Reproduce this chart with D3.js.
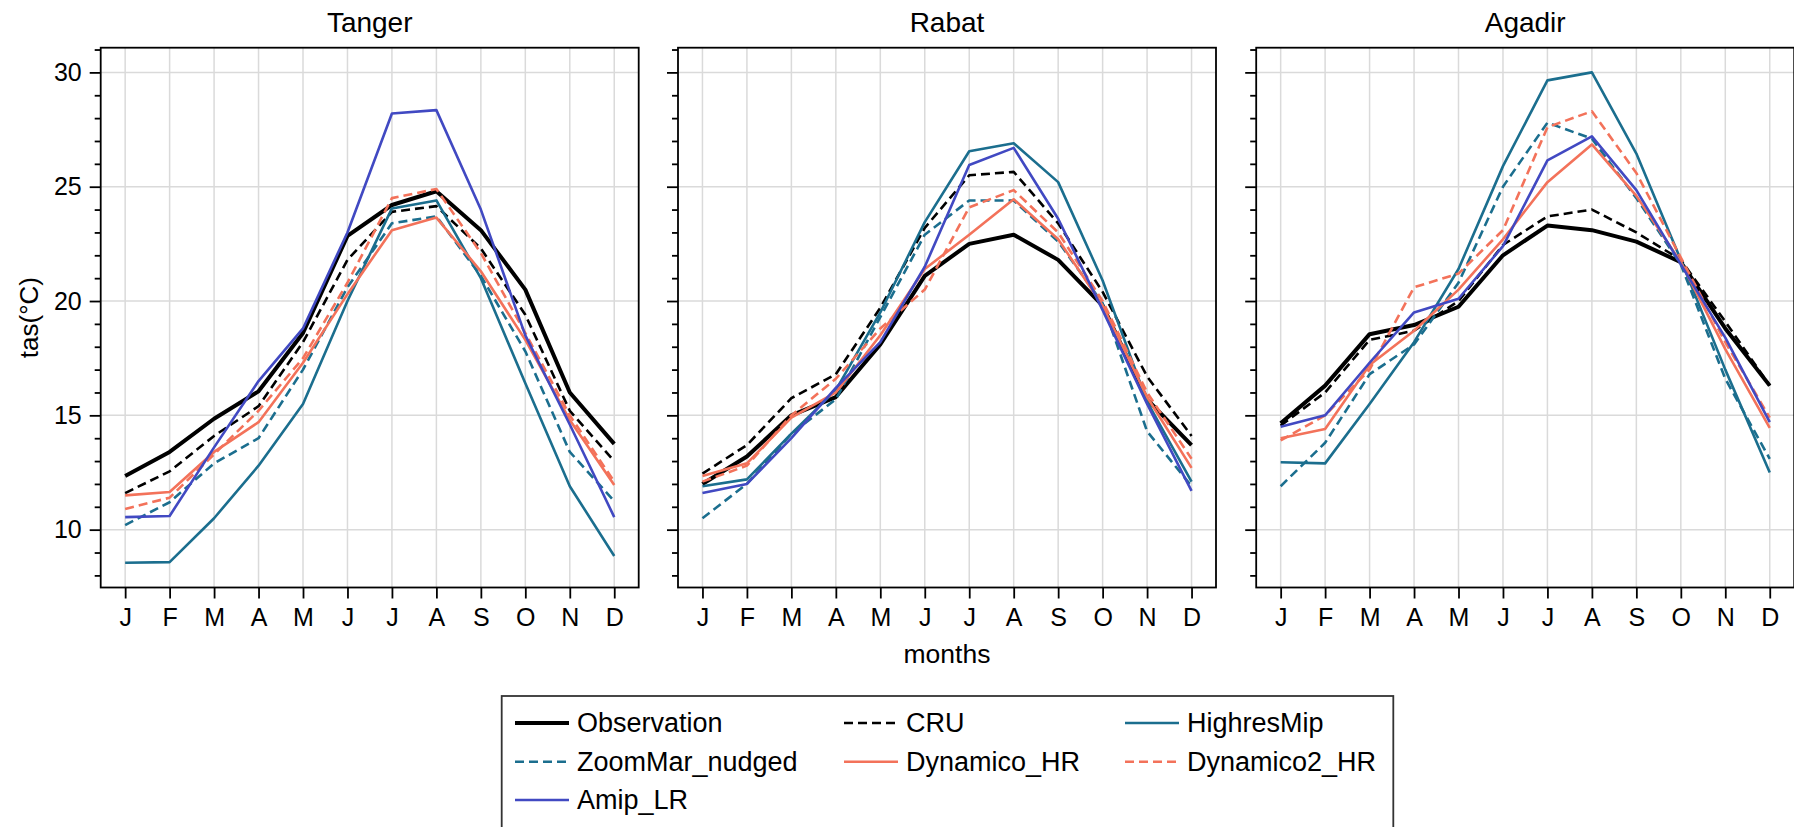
<!DOCTYPE html>
<html>
<head>
<meta charset="utf-8">
<script src="https://cdn.jsdelivr.net/npm/d3@7"></script>
<style>
  body { margin: 0; background: #fff; }
  svg { display: block; font-family: "Liberation Sans", Arial, sans-serif; }
</style>
</head>
<body>
<script>
const months = ["J", "F", "M", "A", "M", "J", "J", "A", "S", "O", "N", "D"];
const cities = ["Tanger", "Rabat", "Agadir"];
const seriesNames = ["Observation", "CRU", "HighresMip", "ZoomMar_nudged", "Dynamico_HR", "Dynamico2_HR", "Amip_LR"];

// Tanger
const tangerObservation = [12.35, 13.4, 14.85, 16.05, 18.6, 22.85, 24.2, 24.8, 23.1, 20.5, 16.0, 13.75];
const tangerCRU = [11.6, 12.55, 14.1, 15.4, 18.2, 21.8, 23.9, 24.15, 22.3, 19.4, 15.2, 13.0];
const tangerHighresMip = [8.55, 8.58, 10.5, 12.8, 15.5, 20.0, 24.05, 24.4, 21.0, 16.4, 11.9, 8.85];
const tangerZoomMar = [10.2, 11.2, 12.9, 14.0, 17.0, 20.6, 23.4, 23.7, 21.1, 17.8, 13.4, 11.25];
const tangerDynamico = [11.5, 11.65, 13.4, 14.7, 17.3, 20.3, 23.1, 23.65, 21.3, 18.3, 14.8, 11.95];
const tangerDynamico2 = [10.9, 11.4, 13.3, 15.2, 17.5, 20.8, 24.5, 24.9, 22.1, 18.6, 15.0, 12.1];
const tangerAmip = [10.55, 10.6, 13.6, 16.5, 18.8, 23.0, 28.2, 28.35, 24.0, 18.5, 14.6, 10.55];

// Rabat
const rabatObservation = [12.0, 13.2, 15.0, 15.8, 18.1, 21.1, 22.5, 22.9, 21.8, 19.8, 15.7, 13.7];
const rabatCRU = [12.45, 13.7, 15.75, 16.8, 19.7, 23.2, 25.5, 25.65, 23.4, 20.4, 16.7, 14.1];
const rabatHighresMip = [11.9, 12.2, 14.2, 16.1, 19.5, 23.45, 26.55, 26.9, 25.2, 20.9, 15.6, 12.1];
const rabatZoomMar = [10.5, 12.0, 14.2, 15.7, 19.3, 22.9, 24.4, 24.4, 22.6, 19.9, 14.3, 11.9];
const rabatDynamico = [12.35, 12.9, 14.9, 16.0, 18.5, 21.4, 22.9, 24.45, 22.7, 19.8, 15.8, 12.7];
const rabatDynamico2 = [12.1, 12.8, 15.0, 16.6, 18.8, 20.5, 24.1, 24.85, 23.0, 20.0, 16.0, 13.1];
const rabatAmip = [11.6, 12.0, 14.0, 16.2, 18.2, 21.5, 25.95, 26.7, 23.6, 19.6, 15.5, 11.7];

// Agadir
const agadirObservation = [14.65, 16.3, 18.55, 18.95, 19.75, 22.0, 23.3, 23.1, 22.6, 21.7, 18.8, 16.3];
const agadirCRU = [14.55, 16.0, 18.3, 18.7, 20.0, 22.45, 23.7, 24.0, 23.0, 21.8, 19.1, 16.3];
const agadirHighresMip = [12.95, 12.9, 15.5, 18.2, 21.4, 25.9, 29.65, 30.0, 26.45, 21.8, 17.0, 12.5];
const agadirZoomMar = [11.9, 13.8, 16.8, 18.1, 20.8, 25.0, 27.8, 27.1, 24.5, 21.6, 16.6, 13.1];
const agadirDynamico = [14.0, 14.4, 17.2, 18.7, 20.5, 22.7, 25.2, 26.85, 24.6, 21.7, 17.9, 14.45];
const agadirDynamico2 = [13.9, 15.0, 17.0, 20.6, 21.2, 23.1, 27.6, 28.3, 25.6, 21.9, 18.2, 14.9];
const agadirAmip = [14.5, 15.0, 17.3, 19.5, 20.1, 22.4, 26.15, 27.2, 24.85, 21.6, 18.4, 14.7];

const yMajorTicks = [10, 15, 20, 25, 30];

const cityData = [
    [tangerObservation, tangerCRU, tangerHighresMip, tangerZoomMar, tangerDynamico, tangerDynamico2, tangerAmip],
    [rabatObservation, rabatCRU, rabatHighresMip, rabatZoomMar, rabatDynamico, rabatDynamico2, rabatAmip],
    [agadirObservation, agadirCRU, agadirHighresMip, agadirZoomMar, agadirDynamico, agadirDynamico2, agadirAmip]
];

const teal = "#1b6e8e", blue = "#4149c2", orange = "#f3725a";
const styles = {
    "Observation": { color: "#000", width: 4, dash: null },
    "CRU": { color: "#000", width: 2.6, dash: "9,5" },
    "HighresMip": { color: teal, width: 2.6, dash: null },
    "ZoomMar_nudged": { color: teal, width: 2.6, dash: "9,5" },
    "Dynamico_HR": { color: orange, width: 2.6, dash: null },
    "Dynamico2_HR": { color: orange, width: 2.6, dash: "9,5" },
    "Amip_LR": { color: blue, width: 2.6, dash: null }
};

const width = 1794, height = 827;
const svg = d3.select("body").append("svg")
    .attr("width", width).attr("height", height)
    .attr("viewBox", `0 0 ${width} ${height}`);

const panelLeft = [100.7, 678, 1256.2];
const panelW = 538, plotTop = 47.7, plotBottom = 587.5;

const y = d3.scaleLinear().domain([7.47, 31.08]).range([plotBottom, plotTop]);
const grid = "#dadada";

cities.forEach((city, ci) => {
    const x = d3.scaleLinear().domain([-0.55, 11.55]).range([panelLeft[ci], panelLeft[ci] + panelW]);
    const g = svg.append("g");

    // grid
    g.append("g").selectAll("line").data(d3.range(12)).enter().append("line")
        .attr("x1", d => x(d)).attr("x2", d => x(d))
        .attr("y1", plotTop).attr("y2", plotBottom)
        .attr("stroke", grid).attr("stroke-width", 1.5);
    g.append("g").selectAll("line").data(yMajorTicks).enter().append("line")
        .attr("x1", x.range()[0]).attr("x2", x.range()[1])
        .attr("y1", d => y(d)).attr("y2", d => y(d))
        .attr("stroke", grid).attr("stroke-width", 1.5);

    // series
    const line = d3.line().x((d, i) => x(i)).y(d => y(d));
    seriesNames.forEach((name, si) => {
        const s = styles[name];
        g.append("path")
            .datum(cityData[ci][si])
            .attr("d", line)
            .attr("fill", "none")
            .attr("stroke", s.color)
            .attr("stroke-width", s.width)
            .attr("stroke-linejoin", "round")
            .attr("stroke-dasharray", s.dash);
    });

    // frame
    g.append("rect")
        .attr("x", x.range()[0]).attr("y", plotTop)
        .attr("width", panelW).attr("height", plotBottom - plotTop)
        .attr("fill", "none").attr("stroke", "#000").attr("stroke-width", 1.8);

    // x axis
    const xAxis = g.append("g")
        .attr("transform", `translate(0,${plotBottom})`)
        .call(d3.axisBottom(x).tickValues(d3.range(12)).tickFormat(i => months[i])
            .tickSize(11).tickPadding(10));
    xAxis.select(".domain").remove();

    // y axis: minor then major
    const yMinor = g.append("g")
        .attr("transform", `translate(${x.range()[0]},0)`)
        .call(d3.axisLeft(y).tickValues(d3.range(8, 32).filter(v => v % 5 !== 0))
            .tickSize(6).tickFormat(""));
    yMinor.select(".domain").remove();
    const yAxis = g.append("g")
        .attr("transform", `translate(${x.range()[0]},0)`)
        .call(d3.axisLeft(y).tickValues(yMajorTicks).tickSize(11).tickPadding(8)
            .tickFormat(ci === 0 ? d3.format("d") : ""));
    yAxis.select(".domain").remove();

    g.selectAll(".tick line").attr("stroke", "#000").attr("stroke-width", 1.8);
    g.selectAll(".tick text").attr("fill", "#000")
        .style("font-size", "25px").style("font-family", "'Liberation Sans', Arial, sans-serif");

    // title
    g.append("text")
        .attr("x", x.range()[0] + panelW / 2).attr("y", 32.3)
        .attr("text-anchor", "middle")
        .style("font-size", "28px")
        .text(city);
});

// axis labels
svg.append("text")
    .attr("transform", `translate(29,${(plotTop + plotBottom) / 2}) rotate(-90)`)
    .attr("text-anchor", "middle").attr("dominant-baseline", "central")
    .style("font-size", "26px")
    .text("tas(°C)");
svg.append("text")
    .attr("x", panelLeft[1] + panelW / 2).attr("y", 663)
    .attr("text-anchor", "middle")
    .style("font-size", "26.5px")
    .text("months");

// legend
const legend = svg.append("g");
legend.append("rect")
    .attr("x", 501.7).attr("y", 696).attr("width", 891.6).attr("height", 160)
    .attr("fill", "#fff").attr("stroke", "#333").attr("stroke-width", 1.8);
const colX = [515, 844, 1125];
const rowY = [723, 761.7, 800];
seriesNames.forEach((name, i) => {
    const s = styles[name];
    const cx = colX[i % 3], cy = rowY[Math.floor(i / 3)];
    legend.append("line")
        .attr("x1", cx).attr("x2", cx + 54)
        .attr("y1", cy).attr("y2", cy)
        .attr("stroke", s.color)
        .attr("stroke-width", s.width)
        .attr("stroke-dasharray", s.dash);
    legend.append("text")
        .attr("x", cx + 62).attr("y", cy)
        .attr("dominant-baseline", "central")
        .style("font-size", "27px")
        .text(name);
});
</script>
</body>
</html>
